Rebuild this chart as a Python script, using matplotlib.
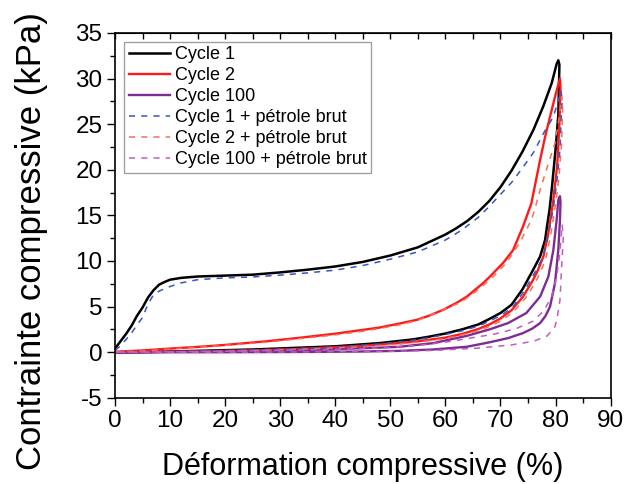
import matplotlib
matplotlib.use('Agg')
import matplotlib.pyplot as plt
from matplotlib.ticker import MultipleLocator

plt.rcParams['font.family'] = ['Liberation Sans', 'DejaVu Sans']
plt.rcParams['axes.unicode_minus'] = False

labels = ['Cycle 1', 'Cycle 2', 'Cycle 100',
          'Cycle 1 + pétrole brut', 'Cycle 2 + pétrole brut', 'Cycle 100 + pétrole brut']

# cycle 1 : loading then unloading
c1_x = [0, 1, 2, 3, 4, 5, 6, 7, 8, 9, 10, 12, 15, 20, 25, 30, 35, 40, 45, 50, 55, 60, 62, 64, 66,
        68, 70, 72, 74, 76, 77.8, 79.3, 80.2, 80.5,
        80.7, 80.5, 80.0, 79.3, 78.9, 78.5, 78.1, 77.2, 75.9, 74, 72, 70, 68, 66, 63, 60, 57, 54,
        51, 48, 40, 33.6, 25, 15, 8, 3, 0]
c1_y = [0.4, 1.2, 2.0, 2.9, 4.0, 4.9, 6.0, 6.8, 7.4, 7.7, 7.95, 8.15, 8.3, 8.4, 8.5, 8.75, 9.05,
        9.4, 9.9, 10.6, 11.5, 12.9, 13.6, 14.4, 15.4, 16.6, 18.1, 19.9, 22.0, 24.4, 27.0, 29.5,
        31.6, 32.0,
        31.5, 26, 22.2, 17.8, 15.6, 14.0, 12.3, 10.5, 9.0, 6.9, 5.2, 4.3, 3.65, 3.05, 2.5, 2.05,
        1.7, 1.4, 1.2, 1.0, 0.65, 0.5, 0.3, 0.15, 0.05, 0.0, 0.0]

# cycle 2
c2_x = [0, 5, 10, 15.4, 20, 27.5, 33, 39.6, 45, 48, 51.7, 54.8, 57, 59.6, 62, 63.9, 66.9, 68.1,
        70.5, 72.3, 74.1, 75.6, 77.2, 78.1, 78.7, 79.9, 80.8,
        80.9, 80.7, 80.3, 79.6, 78.7, 77.8, 76.8, 75.9, 74.1, 72, 70, 68, 66, 63, 60, 55, 51.7,
        45, 35, 25, 15, 5, 0]
c2_y = [0.05, 0.2, 0.4, 0.6, 0.8, 1.2, 1.55, 2.0, 2.45, 2.7, 3.15, 3.55, 4.0, 4.65, 5.4, 6.1, 7.6,
        8.3, 9.8, 11.2, 13.8, 16.3, 21.1, 23.6, 25.1, 28.0, 30.0,
        29, 25, 20.5, 16.7, 13.1, 10.5, 9.0, 7.9, 6.1, 4.6, 3.7, 3.05, 2.55, 2.0, 1.6, 1.2, 1.0,
        0.7, 0.4, 0.2, 0.08, 0.0, 0.0]

# cycle 100
c100_x = [0, 10, 20, 30, 40, 48, 51.7, 57.8, 63.9, 68, 71.4, 74.7, 77.2, 78.7, 79.6, 80.2, 80.5,
          80.8,
          80.9, 80.8, 80.5, 79.9, 79.0, 78.2, 77.2, 75.8, 74.1, 71.4, 68.1, 63.9, 57.8, 51.7, 45,
          35, 20, 0]
c100_y = [0, 0.05, 0.12, 0.22, 0.35, 0.5, 0.6, 1.0, 1.8, 2.5, 3.2, 4.3, 6.1, 8.3, 11.2, 14.5, 16.7,
          17.1,
          16.5, 14.5, 11.2, 7.6, 5.0, 4.0, 3.2, 2.6, 2.1, 1.55, 1.1, 0.6, 0.3, 0.15, 0.08,
          0.03, 0.0, 0.0]

# cycle 1 + crude oil
o1_x = [0, 1, 2, 3, 4, 5, 6, 7, 8, 9, 10, 12, 15, 20, 25, 30, 35, 40, 45, 50, 55, 60, 63, 66,
        68, 70, 72, 74, 76, 78, 79.6, 80.6, 81.0,
        81.2, 81.1, 80.8, 80.2, 79.6, 79.0, 78.4, 77.6, 76.3, 74.4, 72.3, 70.3, 68.3, 66.2, 63,
        60, 57, 54, 51, 48, 40, 33.6, 25, 15, 8, 3, 0]
o1_y = [0.2, 0.7, 1.4, 2.1, 3.0, 3.8, 5.3, 6.3, 6.7, 6.95, 7.2, 7.6, 7.95, 8.15, 8.25, 8.45, 8.7,
        9.0, 9.5, 10.2, 11.0, 12.3, 13.4, 14.8, 16.0, 17.3, 18.6, 20.2, 21.9, 24.2, 25.8, 27.8, 28.7,
        27.5, 26.6, 22.2, 18.5, 15.8, 13.8, 12.0, 10.3, 8.8, 6.8, 5.0, 4.1, 3.5, 2.9, 2.35,
        1.95, 1.6, 1.3, 1.1, 0.9, 0.55, 0.4, 0.25, 0.1, 0.03, 0.0, 0.0]

# cycle 2 + crude oil
o2_x = [0, 5, 10, 15, 20, 27.5, 33, 40, 45, 48, 51.7, 55, 57.8, 60, 62.6, 64.5, 66.3, 68.7, 71.1,
        73.5, 75.6, 76.2, 77.2, 78.7, 79.9, 80.6, 81.1,
        81.3, 81.1, 80.6, 80.0, 79.1, 78.2, 77.2, 76.3, 74.5, 72.3, 70.3, 68.3, 66.3, 63, 60, 55,
        51.7, 45, 35, 25, 15, 5, 0]
o2_y = [0.05, 0.15, 0.35, 0.55, 0.75, 1.1, 1.45, 1.9, 2.3, 2.6, 3.0, 3.5, 4.2, 4.8, 5.4, 6.2, 7.0,
        8.3, 9.8, 12.0, 14.5, 15.6, 17.8, 20.7, 22.9, 25.5, 28.0,
        27, 23, 19, 16.2, 12.8, 10.2, 8.7, 7.6, 5.9, 4.4, 3.5, 2.9, 2.4, 1.9, 1.5, 1.1,
        0.9, 0.6, 0.35, 0.18, 0.06, 0.0, 0.0]

# cycle 100 + crude oil
o100_x = [0, 10, 20, 30, 40, 48, 55, 60, 65, 69, 72.9, 75.9, 77.8, 79.3, 80.2, 80.8, 81.2,
          81.4, 81.1, 80.8, 80.3, 79.9, 78.5, 76, 72, 66, 58, 50, 40, 20, 0]
o100_y = [0, 0.05, 0.1, 0.2, 0.32, 0.45, 0.75, 1.1, 1.6, 2.0, 2.6, 3.4, 4.5, 6.1, 8.3, 11.0, 14.0,
          12.5, 9.4, 5.7, 3.8, 2.8, 1.8, 1.2, 0.8, 0.45, 0.2, 0.1, 0.05, 0.0, 0.0]

fig = plt.figure(figsize=(6.25, 4.84), dpi=100)
ax = fig.add_axes([0.184, 0.178, 0.793, 0.754])

ax.plot(c1_x, c1_y, color='black', lw=1.8, label=labels[0])
ax.plot(c2_x, c2_y, color='#ff1a1a', lw=1.7, label=labels[1])
ax.plot(c100_x, c100_y, color='#7b2d92', lw=1.7, label=labels[2])
ax.plot(o1_x, o1_y, color='#3556c4', lw=1.1, dashes=(4, 4), label=labels[3])
ax.plot(o2_x, o2_y, color='#f2705a', lw=1.1, dashes=(4, 4), label=labels[4])
ax.plot(o100_x, o100_y, color='#c25cbf', lw=1.1, dashes=(4, 4), label=labels[5])

ax.set_xlim(0, 90)
ax.set_ylim(-5, 35)
ax.xaxis.set_major_locator(MultipleLocator(10))
ax.xaxis.set_minor_locator(MultipleLocator(5))
ax.yaxis.set_major_locator(MultipleLocator(5))
ax.yaxis.set_minor_locator(MultipleLocator(2.5))
ax.tick_params(which='major', direction='out', length=6, width=1, labelsize=17.5, pad=3)
ax.tick_params(which='minor', direction='out', length=3.5, width=1)

top = ax.secondary_xaxis('top')
top.xaxis.set_major_locator(MultipleLocator(10))
top.xaxis.set_minor_locator(MultipleLocator(5))
top.tick_params(which='both', direction='in', length=4, width=1, labeltop=False)

for s in ax.spines.values():
    s.set_linewidth(1.2)

ax.set_xlabel('Déformation compressive (%)', fontsize=22, labelpad=14)
ax.set_ylabel('Contrainte compressive (kPa)', fontsize=25)
ax.yaxis.set_label_coords(-0.135, 0.43)

leg = ax.legend(loc='upper left', fontsize=13, frameon=True, fancybox=False,
                edgecolor='#888888', handlelength=2.3, handletextpad=0.25,
                labelspacing=0.22, borderpad=0.25, borderaxespad=0.5)
leg.get_frame().set_linewidth(1.0)

fig.savefig('out.png', dpi=100)
